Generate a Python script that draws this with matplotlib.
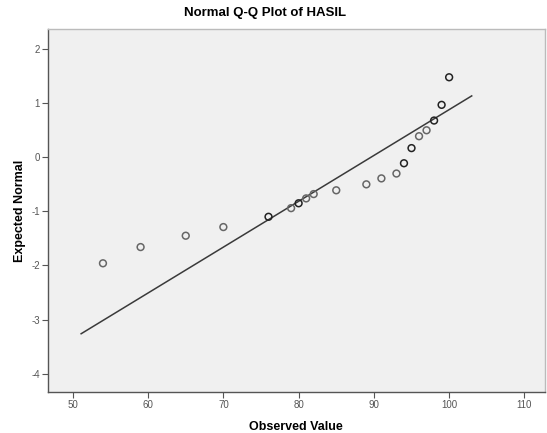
import numpy as np
import matplotlib
matplotlib.use("Agg")
import matplotlib.pyplot as plt

plt.rcParams["font.family"] = ["Liberation Sans", "DejaVu Sans"]
plt.rcParams["axes.unicode_minus"] = False

# observed values (sorted) and their expected normal scores
observed = [54, 59, 65, 70, 76, 79, 80, 81, 82, 85, 89, 91, 93, 94, 95, 96, 97, 98, 99, 100]
expected = [-1.96, -1.66, -1.45, -1.29, -1.10, -0.94, -0.85, -0.76, -0.68, -0.61,
            -0.50, -0.39, -0.30, -0.11, 0.17, 0.39, 0.50, 0.68, 0.97, 1.48]
# tied values are drawn darker
ties = [1, 1, 1, 1, 2, 1, 2, 1, 1, 1, 1, 1, 1, 2, 2, 1, 1, 2, 2, 2]

# reference line
line_x = [51.1, 103.0]
line_mean = 89.6
line_sd = 11.8

fig = plt.figure(figsize=(5.47, 4.33), dpi=100)
ax = fig.add_axes([0.0878, 0.0947, 0.908, 0.838])
ax.set_facecolor("#f0f0f0")

lx = np.array(line_x)
ax.plot(lx, (lx - line_mean) / line_sd, color="#3a3a3a", lw=1.1, zorder=2)

colors = ["#222222" if t > 1 else "#666666" for t in ties]
ax.scatter(observed, expected, s=24, facecolors="none", edgecolors=colors,
           linewidths=1.1, zorder=3)

ax.set_xlim(46.7, 112.7)
ax.set_ylim(-4.34, 2.37)
ax.set_xticks([50, 60, 70, 80, 90, 100, 110])
ax.set_yticks([-4, -3, -2, -1, 0, 1, 2])
ax.tick_params(direction="out", length=4, width=0.8, color="#555555",
               labelcolor="#555555", labelsize=7, pad=2)

for side in ["top", "right"]:
    ax.spines[side].set_color("#bbbbbb")
for side in ["left", "bottom"]:
    ax.spines[side].set_color("#555555")
for sp in ax.spines.values():
    sp.set_linewidth(1.0)

fig.text(264.7 / 547, 1 - 13 / 433, "Normal Q-Q Plot of HASIL", fontsize=9.5,
         fontweight="bold", ha="center", va="center")
ax.set_xlabel("Observed Value", fontsize=9, fontweight="bold", labelpad=8)
ax.set_ylabel("Expected Normal", fontsize=9, fontweight="bold", labelpad=4)

fig.savefig("out.png", dpi=100)
